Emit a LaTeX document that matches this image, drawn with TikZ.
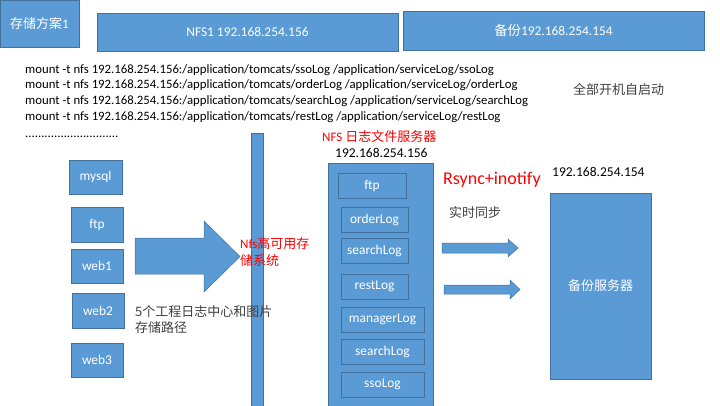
\documentclass[tikz,border=0pt]{standalone}
\usepackage{fontspec}
\setmainfont{Carlito}
\newfontfamily\cjk{Noto Sans CJK SC}
\definecolor{boxblue}{HTML}{5B9BD5}
\definecolor{boxedge}{HTML}{41719C}
\definecolor{txtgray}{HTML}{404040}
\definecolor{redtxt}{HTML}{FF0000}
\begin{document}
\begin{tikzpicture}[x=1pt,y=-1pt,
  bbox/.style={fill=boxblue,draw=boxedge,line width=0.7pt,text=white,inner sep=0pt,font=\fontsize{13.4}{15}\selectfont},
  shapefill/.style={fill=boxblue,draw=boxedge,line width=0.5pt},
  mline/.style={anchor=west,inner sep=0pt,text=black,font=\fontsize{12.75}{14}\selectfont},
  iptxt/.style={anchor=west,inner sep=0pt,text=black,font=\fontsize{13.5}{15}\selectfont},
  cjktxt/.style={inner sep=0pt,text=txtgray,font=\fontsize{13}{16}\selectfont\cjk},
  redlbl/.style={inner sep=0pt,text=redtxt,font=\fontsize{13}{17}\selectfont}]
\clip (0,0) rectangle (720,405);
\fill[white] (0,0) rectangle (720,405);
% top boxes
\node[bbox,minimum width=79pt,minimum height=47pt,font=\fontsize{13}{15}\selectfont] (title) at (39.5,23.5) {{\cjk 存储方案}1};
\node[bbox,minimum width=301pt,minimum height=38pt] (nfs1) at (247.5,32) {NFS1 192.168.254.156};
\node[bbox,minimum width=301pt,minimum height=39pt] (bak) at (553.5,30.5) {{\cjk 备份}192.168.254.154};
% mount lines
\node[mline] (m1) at (25,70) {mount -t nfs 192.168.254.156:/application/tomcats/ssoLog /application/serviceLog/ssoLog};
\node[mline] (m2) at (25,85.5) {mount -t nfs 192.168.254.156:/application/tomcats/orderLog /application/serviceLog/orderLog};
\node[mline] (m3) at (25,101) {mount -t nfs 192.168.254.156:/application/tomcats/searchLog /application/serviceLog/searchLog};
\node[mline] (m4) at (25,117) {mount -t nfs 192.168.254.156:/application/tomcats/restLog /application/serviceLog/restLog};
\node[mline,anchor=base west] (dots) at (25,137) {.............................};
\node[cjktxt,anchor=west] (auto) at (573,90) {全部开机自启动};
% left client boxes
\node[bbox,minimum width=53pt,minimum height=34pt] (mysql) at (95.5,177) {mysql};
\node[bbox,minimum width=52pt,minimum height=35pt] (ftp) at (97,224.5) {ftp};
\node[bbox,minimum width=52pt,minimum height=34pt] (web1) at (97,266) {web1};
\node[bbox,minimum width=52pt,minimum height=35pt] (web2) at (98,310.5) {web2};
\node[bbox,minimum width=52pt,minimum height=34pt] (web3) at (97,360) {web3};
% big arrow
\draw[shapefill] (135,238) -- (204,238) -- (204,221) -- (240,256.5) -- (204,292) -- (204,274) -- (135,274) -- cycle;
% vertical bar
\draw[shapefill] (251,133) rectangle (263,412);
\node[redlbl,anchor=north west,align=left] (ha) at (240,237) {Nfs{\cjk 高可用存}\\{\cjk 储系统}};
\node[cjktxt,anchor=north west,align=left] (five) at (135,305) {5个工程日志中心和图片\\存储路径};
% NFS server
\node[redlbl,anchor=west] (nfst) at (322,137) {NFS {\cjk 日志文件服务器}};
\node[iptxt] (ip156) at (335,153) {192.168.254.156};
\draw[shapefill] (328,163) rectangle (433,412);
\node[bbox,minimum width=68pt,minimum height=25pt] (iftp) at (372,185.5) {ftp};
\node[bbox,minimum width=67pt,minimum height=25pt] (iorder) at (374.5,219.5) {orderLog};
\node[bbox,minimum width=67pt,minimum height=25pt] (isearch) at (374.5,250.5) {searchLog};
\node[bbox,minimum width=67pt,minimum height=25pt] (irest) at (374.5,286.5) {restLog};
\node[bbox,minimum width=83pt,minimum height=25pt] (imanager) at (382.5,319.5) {managerLog};
\node[bbox,minimum width=83pt,minimum height=25pt] (isearchb) at (382.5,351.5) {searchLog};
\node[bbox,minimum width=83pt,minimum height=25pt] (isso) at (382.5,384.5) {ssoLog};
% sync
\node[redlbl,anchor=west,font=\fontsize{18}{20}\selectfont] (rsync) at (443,180) {Rsync+inotify};
\node[cjktxt,anchor=west] (sync) at (449,213) {实时同步};
\draw[shapefill] (442,243) -- (508,243) -- (508,239) -- (518,248) -- (508,257) -- (508,253) -- (442,253) -- cycle;
\draw[shapefill] (444,285) -- (510,285) -- (510,280) -- (520,289.5) -- (510,299) -- (510,294) -- (444,294) -- cycle;
% backup server
\node[iptxt] (ip154) at (552,172) {192.168.254.154};
\node[bbox,minimum width=101pt,minimum height=186pt,font=\fontsize{13}{15}\selectfont\cjk] (bserver) at (600.5,286) {备份服务器};
\end{tikzpicture}
\end{document}
